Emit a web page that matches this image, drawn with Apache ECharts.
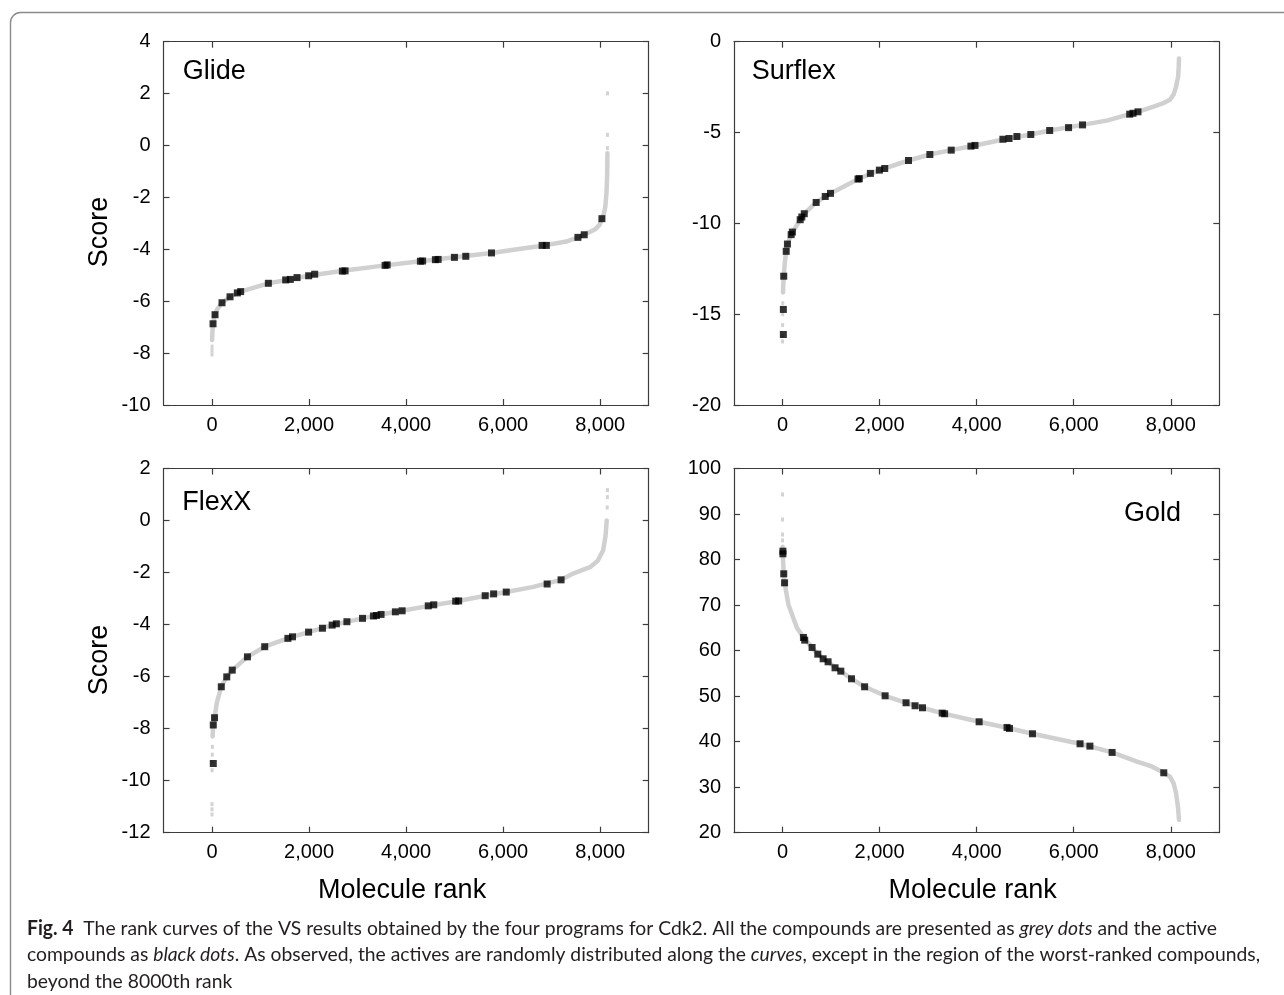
<!DOCTYPE html>
<html>
<head>
<meta charset="utf-8">
<title>Rank curves for Cdk2</title>
<script src="https://cdn.jsdelivr.net/npm/echarts@6/dist/echarts.min.js"></script>
<style>
    html, body { margin: 0; padding: 0; background: #fff; }
    #chart { width: 1284px; height: 995px; }
</style>
</head>
<body>
<div id="chart"></div>
<script>
// x axis tick labels, shared by all four panels
var rankTicks = [0, 2000, 4000, 6000, 8000];

// Glide: [rank, score]
var glideCurve = [[0, -7.5], [8, -7.2], [21, -6.87], [50, -6.6], [100, -6.33], [206, -6.06], [371, -5.83], [590, -5.63],
    [1161, -5.31], [1614, -5.16], [1992, -5.02], [2700, -4.83], [3567, -4.62], [4295, -4.46], [4996, -4.31], [5760, -4.14],
    [6325, -3.99], [6850, -3.85], [7300, -3.70], [7541, -3.54], [7671, -3.44], [7889, -3.24], [7990, -3.05], [8036, -2.82],
    [8080, -2.6], [8106, -2.35], [8130, -1.83], [8145, -1.06], [8149, -0.3]];
var glideSparse = [[0, -8.05], [0, -7.9], [1, -7.75], [8149, -0.1], [8150, 0.41], [8152, 2.01]];
var glideActives = [[21, -6.87], [62, -6.52], [206, -6.06], [371, -5.83], [522, -5.68], [590, -5.63], [1161, -5.31],
    [1518, -5.18], [1614, -5.16], [1752, -5.09], [1992, -5.02], [2116, -4.96], [2687, -4.84], [2742, -4.83],
    [3567, -4.62], [3610, -4.60], [4295, -4.46], [4340, -4.45], [4604, -4.40], [4660, -4.39], [4996, -4.31],
    [5230, -4.27], [5760, -4.14], [6803, -3.85], [6890, -3.85], [7541, -3.54], [7671, -3.44], [8036, -2.82]];

// Surflex
var surflexCurve = [[10, -13.8], [17, -13.3], [25, -12.9], [45, -12.2], [76, -11.55], [101, -11.15], [178, -10.62],
    [250, -10.3], [364, -9.8], [448, -9.47], [693, -8.85], [989, -8.35], [1560, -7.56], [1996, -7.07], [2596, -6.54],
    [3036, -6.21], [3476, -5.97], [3966, -5.71], [4600, -5.36], [5116, -5.11], [5505, -4.89], [6182, -4.58],
    [6700, -4.33], [7154, -3.99], [7324, -3.86], [7645, -3.57], [7850, -3.38], [7983, -3.2], [8060, -2.9],
    [8110, -2.47], [8152, -1.92], [8163, -1.4], [8169, -0.92]];
var surflexSparse = [[5, -14.4], [3, -15.0], [2, -15.6], [0, -16.2], [0, -16.5]];
var surflexActives = [[17, -16.12], [17, -14.74], [25, -12.91], [76, -11.54], [101, -11.14], [178, -10.62],
    [203, -10.48], [364, -9.80], [397, -9.65], [448, -9.47], [693, -8.85], [880, -8.52], [989, -8.35],
    [1556, -7.56], [1582, -7.54], [1810, -7.25], [1996, -7.07], [2106, -6.98], [2596, -6.54], [3036, -6.21],
    [3476, -5.97], [3882, -5.75], [3966, -5.71], [4541, -5.37], [4668, -5.33], [4829, -5.22], [5116, -5.11],
    [5505, -4.89], [5894, -4.73], [6182, -4.58], [7154, -3.99], [7222, -3.94], [7324, -3.86]];

// FlexX
var flexxCurve = [[12, -8.3], [26, -7.86], [52, -7.58], [100, -7.0], [191, -6.39], [304, -6.01], [417, -5.75],
    [730, -5.24], [1086, -4.85], [1600, -4.5], [1990, -4.29], [2476, -4.02], [3102, -3.76], [3484, -3.61],
    [3918, -3.47], [4500, -3.27], [5050, -3.1], [5630, -2.89], [6064, -2.75], [6600, -2.56], [7194, -2.28],
    [7454, -2.03], [7802, -1.78], [7950, -1.55], [8062, -1.14], [8110, -0.6], [8135, 0.0]];
var flexxSparse = [[0, -11.3], [0, -11.1], [0, -10.9], [2, -9.6], [3, -9.3], [5, -9.0], [8, -8.7],
    [8145, 0.5], [8149, 0.9], [8150, 1.17]];
var flexxActives = [[26, -9.34], [26, -7.86], [52, -7.58], [191, -6.39], [304, -6.01], [417, -5.75], [730, -5.24],
    [1086, -4.85], [1564, -4.53], [1659, -4.47], [1990, -4.29], [2276, -4.14], [2476, -4.02], [2563, -3.97],
    [2780, -3.89], [3102, -3.76], [3327, -3.67], [3388, -3.65], [3484, -3.61], [3779, -3.51], [3918, -3.47],
    [4457, -3.28], [4570, -3.24], [5022, -3.10], [5083, -3.09], [5630, -2.89], [5804, -2.82], [6064, -2.75],
    [6907, -2.44], [7194, -2.28]];

// Gold
var goldCurve = [[0, 82.8], [8, 80.5], [25, 76.9], [42, 74.9], [124, 70], [296, 65], [431, 62.9], [609, 60.7],
    [727, 59.2], [939, 57.5], [1201, 55.5], [1421, 53.8], [1691, 52.05], [2114, 50.07], [2545, 48.54],
    [2884, 47.44], [3300, 46.2], [4051, 44.36], [4650, 43.0], [5150, 41.73], [6131, 39.53], [6791, 37.63],
    [7306, 35.6], [7600, 34.6], [7856, 33.16], [7983, 32.3], [8060, 30.8], [8110, 28.6], [8150, 25.5], [8169, 22.8]];
var goldSparse = [[0, 94.3], [0, 88.8], [0, 85.5], [0, 84.2]];
var goldActives = [[8, 81.84], [8, 81.26], [25, 76.87], [42, 74.89], [431, 62.88], [457, 62.30], [609, 60.69],
    [727, 59.22], [837, 58.20], [939, 57.54], [1082, 56.22], [1201, 55.49], [1421, 53.81], [1691, 52.05],
    [2114, 50.07], [2545, 48.54], [2731, 47.88], [2884, 47.44], [3290, 46.27], [3340, 46.12], [4051, 44.36],
    [4626, 43.12], [4677, 42.90], [5150, 41.73], [6131, 39.53], [6334, 39.02], [6791, 37.63], [7856, 33.16]];

var captionLines = [
    '{b|Fig. 4}  The rank curves of the VS results obtained by the four programs for Cdk2. All the compounds are presented as {i|grey dots} and the active',
    'compounds as {i|black dots}. As observed, the actives are randomly distributed along the {i|curves}, except in the region of the worst-ranked compounds,',
    'beyond the 8000th rank'
];

var FONT = '"Liberation Sans", Arial, Helvetica, sans-serif';
var CAPTION_FONT = 'Lato, "Open Sans", sans-serif';
var axisColor = '#3c3c3c';

var panels = [
    {name: 'Glide', curve: glideCurve, sparse: glideSparse, actives: glideActives,
        yMin: -10, yMax: 4, yStep: 2, score: 232, rank: false,
        grid: {left: 163.5, top: 41.7, width: 485.2, height: 363.3}, label: {x: 182.7, y: 71.7, align: 'left'}},
    {name: 'Surflex', curve: surflexCurve, sparse: surflexSparse, actives: surflexActives,
        yMin: -20, yMax: 0, yStep: 5, score: 0, rank: false,
        grid: {left: 734, top: 41.7, width: 485.3, height: 363.3}, label: {x: 751.7, y: 71.7, align: 'left'}},
    {name: 'FlexX', curve: flexxCurve, sparse: flexxSparse, actives: flexxActives,
        yMin: -12, yMax: 2, yStep: 2, score: 660, rank: true,
        grid: {left: 163.5, top: 468.5, width: 485.2, height: 364.2}, label: {x: 182.2, y: 502.7, align: 'left'}},
    {name: 'Gold', curve: goldCurve, sparse: goldSparse, actives: goldActives,
        yMin: 20, yMax: 100, yStep: 10, score: 0, rank: true,
        grid: {left: 734, top: 468.5, width: 485.3, height: 364.2}, label: {x: 1181, y: 513.3, align: 'right'}}
];

function withComma(v) {
    return String(v).replace(/\B(?=(\d{3})+(?!\d))/g, ',');
}

var grids = [], xAxes = [], yAxes = [], series = [], graphics = [];
var lineStyle = {color: axisColor, width: 1.2};

panels.forEach(function (p, i) {
    grids.push({
        left: p.grid.left, top: p.grid.top, width: p.grid.width, height: p.grid.height,
        containLabel: false, outerBoundsMode: 'none'
    });

    // bottom and top x axes (the top one only closes the frame)
    ['bottom', 'top'].forEach(function (pos) {
        var main = pos === 'bottom';
        xAxes.push({
            gridIndex: i, type: 'value', position: pos, min: -1000, max: 9000,
            axisLine: {show: true, onZero: false, lineStyle: lineStyle},
            axisTick: {show: true, inside: true, length: 6, customValues: rankTicks, lineStyle: lineStyle},
            axisLabel: {show: main, customValues: rankTicks, margin: 10, fontSize: 20, color: '#000',
                fontFamily: FONT, formatter: withComma},
            splitLine: {show: false},
            name: main && p.rank ? 'Molecule rank' : '',
            nameLocation: 'middle', nameGap: 44,
            nameTextStyle: {fontSize: 27, color: '#000', fontFamily: FONT, padding: [0, 8, 0, 0]}
        });
    });

    ['left', 'right'].forEach(function (pos) {
        var main = pos === 'left';
        yAxes.push({
            gridIndex: i, type: 'value', position: pos, min: p.yMin, max: p.yMax, interval: p.yStep,
            axisLine: {show: true, onZero: false, lineStyle: lineStyle},
            axisTick: {show: true, inside: true, length: 6, lineStyle: lineStyle},
            axisLabel: {show: main, margin: 13, fontSize: 20, color: '#000', fontFamily: FONT},
            splitLine: {show: false}
        });
    });

    series.push({
        type: 'line', xAxisIndex: 2 * i, yAxisIndex: 2 * i, data: p.curve,
        showSymbol: false, symbol: 'none', smooth: false, silent: true, z: 2,
        lineStyle: {color: '#d0d0d0', width: 4.5, cap: 'round', join: 'round'}
    });
    series.push({
        type: 'scatter', xAxisIndex: 2 * i, yAxisIndex: 2 * i, data: p.sparse,
        symbol: 'rect', symbolSize: [3, 4], silent: true, z: 2,
        itemStyle: {color: '#c8c8c8'}
    });
    series.push({
        type: 'scatter', xAxisIndex: 2 * i, yAxisIndex: 2 * i, data: p.actives,
        symbol: 'rect', symbolSize: 7, silent: true, z: 3,
        itemStyle: {color: '#000'}
    });

    graphics.push({
        type: 'text', x: p.label.x, y: p.label.y, z: 10,
        style: {text: p.name, fontSize: 27, fontFamily: FONT, fill: '#000',
            align: p.label.align, verticalAlign: 'middle'}
    });

    // y title sits a little below the middle of the axis in the original
    if (p.score) {
        graphics.push({
            type: 'text', x: 100, y: p.score, rotation: Math.PI / 2, z: 10,
            style: {text: 'Score', fontSize: 27, fontFamily: FONT, fill: '#000',
                align: 'center', verticalAlign: 'middle'}
        });
    }
});

// figure frame, cut by the right and bottom edges like the original
graphics.push({
    type: 'rect', z: 0, silent: true,
    shape: {x: 10.5, y: 12.5, width: 1400, height: 1100, r: 10},
    style: {fill: 'none', stroke: '#8a8a8a', lineWidth: 1.4}
});

// squeeze the caption to the width of the original lines
var ctx = document.createElement('canvas').getContext('2d');
ctx.font = '20px ' + CAPTION_FONT;
var plain = captionLines[1].replace(/\{[bi]\|([^}]*)\}/g, '$1');
var capScale = 1241 / ctx.measureText(plain).width;

captionLines.forEach(function (line, k) {
    graphics.push({
        type: 'text', x: 27, y: 928.3 + k * 26.7, scaleX: capScale, z: 10,
        style: {
            text: line, fontSize: 20, fontFamily: CAPTION_FONT, fill: '#231f20',
            align: 'left', verticalAlign: 'middle',
            rich: {
                b: {fontSize: 20, fontFamily: CAPTION_FONT, fontWeight: 'bold', fill: '#231f20'},
                i: {fontSize: 20, fontFamily: CAPTION_FONT, fontStyle: 'italic', fill: '#231f20'}
            }
        }
    });
});

var chart = echarts.init(document.getElementById('chart'), null, {renderer: 'canvas'});
chart.setOption({
    animation: false,
    backgroundColor: '#fff',
    grid: grids,
    xAxis: xAxes,
    yAxis: yAxes,
    series: series,
    graphic: graphics
});
</script>
</body>
</html>
